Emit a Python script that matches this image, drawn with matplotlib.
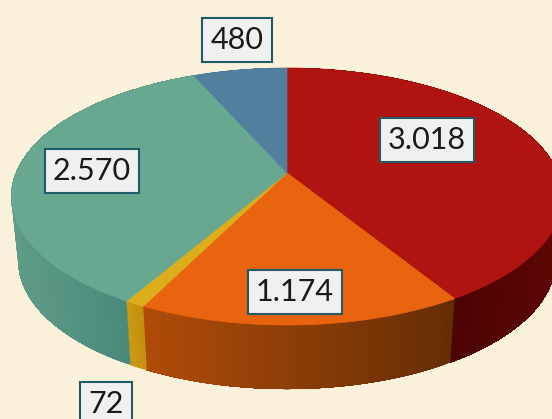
import matplotlib.pyplot as plt
import matplotlib.colors as mcolors
import numpy as np

# data
labels = ['3.018', '1.174', '72', '2.570', '480']
values = [3018, 1174, 72, 2570, 480]
top_colors = ['#b01410', '#e8640f', '#dcae1c', '#68a890', '#537f9f']
side_left = ['#4a0403', '#b04c08', '#cc9a10', '#5f9c87', '#40657f']
side_right = ['#5c0604', '#652d05', '#c48f10', '#4a8a7c', '#40657f']
label_pos = [(427, 140), (295, 292), (106, 404), (92, 171), (237, 40)]

bg = '#faf1da'

# pie geometry, in picture pixels
cx, cy = 287, 173
R, S = 271, 124.2
k = 0.183
depth = 64
shrink = 0.975  # bottom rim is a bit narrower than the top one


def project(theta):
    # clockwise from 12 o'clock, perspective tilt
    u = np.sin(theta)
    v = np.cos(theta)
    w = 1 + k * v
    return cx + R * u / w, cy - S * v / w


fig = plt.figure(figsize=(5.52, 4.19), dpi=100, facecolor=bg)
ax = fig.add_axes([0, 0, 1, 1])
ax.set_xlim(0, 552)
ax.set_ylim(419, 0)
ax.axis('off')

fracs = np.array(values) / sum(values)
edges = np.concatenate([[0], np.cumsum(fracs)]) * 2 * np.pi

# side wall first, the top covers the far part of it
for i in range(len(values)):
    t = np.linspace(edges[i], edges[i + 1], max(int(fracs[i] * 500), 6))
    x, y = project(t)
    xb = cx + (x - cx) * shrink
    near = np.cos(t) < 0.1
    xs = x[near] if near.any() else x
    x0, x1 = xs.min(), min(xs.max(), 552)
    c0 = np.array(mcolors.to_rgb(side_left[i]))
    c1 = np.array(mcolors.to_rgb(side_right[i]))
    for j in range(len(t) - 1):
        f = np.clip(((x[j] + x[j + 1]) / 2 - x0) / max(x1 - x0, 1), 0, 1)
        c = c0 + (c1 - c0) * f
        # run the strip on to the slice end so no seams show
        ax.fill(np.r_[x[j:], xb[j:][::-1]],
                np.r_[y[j:], (y[j:] + depth)[::-1]],
                color=c, lw=0)

# top face
for i in range(len(values)):
    t = np.linspace(edges[i], edges[i + 1], 200)
    x, y = project(t)
    ax.fill(np.r_[cx, x], np.r_[cy, y], color=top_colors[i], lw=0.5)

for lab, (lx, ly) in zip(labels, label_pos):
    ax.text(lx, ly, lab, family='Lato', fontsize=22, color='#1a1a1a',
            ha='center', va='center', clip_on=False,
            bbox=dict(boxstyle='square,pad=0.27', fc='#f0f0f0', ec='#1f5c68', lw=1.5))

fig.savefig('out.png', dpi=100, facecolor=bg)
